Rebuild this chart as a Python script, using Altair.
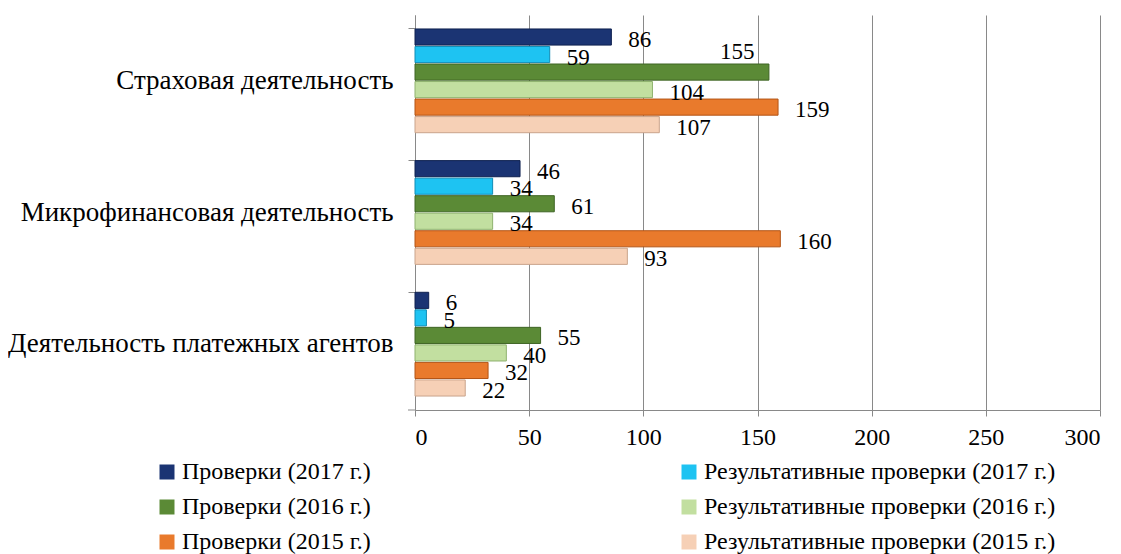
import altair as alt
import pandas as pd

categories = ["Страховая деятельность", "Микрофинансовая деятельность", "Деятельность платежных агентов"]
series = [
    "Проверки (2017 г.)",
    "Результативные проверки (2017 г.)",
    "Проверки (2016 г.)",
    "Результативные проверки (2016 г.)",
    "Проверки (2015 г.)",
    "Результативные проверки (2015 г.)",
]
p2017 = [86, 46, 6]
r2017 = [59, 34, 5]
p2016 = [155, 61, 55]
r2016 = [104, 34, 40]
p2015 = [159, 160, 32]
r2015 = [107, 93, 22]

colors = ["#1B3473", "#1EC3F2", "#5B8A36", "#C2DFA0", "#E97A2C", "#F6D0B6"]
strokes = ["#0F2150", "#118CB5", "#3E6424", "#8FB26E", "#B35416", "#C9A48C"]

vals = [p2017, r2017, p2016, r2016, p2015, r2015]
rows = []
for s, v in zip(series, vals):
    for c, x in zip(categories, v):
        rows.append({"category": c, "series": s, "value": x})
df = pd.DataFrame(rows)

FONT = "Liberation Serif"

y_enc = alt.Y(
    "category:N",
    sort=categories,
    title=None,
    scale=alt.Scale(paddingInner=0.212, paddingOuter=0.106),
    axis=alt.Axis(
        bandPosition=0,
        labelFont=FONT,
        labelFontSize=27,
        labelColor="black",
        labelPadding=15,
        tickSize=7,
        tickColor="#898989",
        domainColor="#898989",
        labelLimit=600,
        grid=False,
    ),
)
yoff = alt.YOffset("series:N", sort=series, scale=alt.Scale(paddingInner=0.08, paddingOuter=0))
x_enc = alt.X(
    "value:Q",
    title=None,
    scale=alt.Scale(domain=[0, 300], nice=False),
    axis=alt.Axis(
        values=[0, 50, 100, 150, 200, 250, 300],
        labelFont=FONT,
        labelFontSize=24,
        labelColor="black",
        labelPadding=9,
        tickSize=6,
        tickColor="#898989",
        domainColor="#898989",
        gridColor="#898989",
        grid=True,
    ),
)

base = alt.Chart(df)

bars = base.mark_bar(strokeWidth=1).encode(
    x=x_enc,
    y=y_enc,
    yOffset=yoff,
    color=alt.Color(
        "series:N",
        sort=series,
        scale=alt.Scale(domain=series, range=colors),
        legend=alt.Legend(
            orient="none",
            direction="horizontal",
            legendX=-260,
            legendY=445,
            columns=2,
            columnPadding=306,
            rowPadding=11,
            symbolType="square",
            symbolSize=225,
            symbolStrokeWidth=0,
            labelOffset=3,
            labelFont=FONT,
            labelFontSize=24,
            labelColor="black",
            labelLimit=600,
            title=None,
        ),
    ),
    stroke=alt.Stroke("series:N", sort=series, scale=alt.Scale(domain=series, range=strokes), legend=None),
)

labels = base.transform_filter(
    "!(datum.value == 155 && datum.category == 'Страховая деятельность')"
).mark_text(align="left", baseline="middle", dx=17, dy=3, font=FONT, fontSize=23, color="black").encode(
    x="value:Q",
    y=alt.Y("category:N", sort=categories),
    yOffset=alt.YOffset("series:N", sort=series),
    text="value:Q",
)

label_moved = base.transform_filter(
    "datum.value == 155 && datum.category == 'Страховая деятельность'"
).mark_text(align="left", baseline="middle", dx=-49, dy=-20, font=FONT, fontSize=23, color="black").encode(
    x="value:Q",
    y=alt.Y("category:N", sort=categories),
    yOffset=alt.YOffset("series:N", sort=series),
    text="value:Q",
)

bottom_tick = alt.Chart(pd.DataFrame({"a": [0]})).mark_rule(color="#898989").encode(
    x=alt.value(-7), x2=alt.value(0), y=alt.value(395)
)

chart = alt.layer(bars, labels, label_moved, bottom_tick).properties(
    width=685,
    height=395,
    autosize=alt.AutoSizeParams(type="none"),
    padding={"left": 407, "top": 7, "right": 5, "bottom": 144},
).configure(background="white", font=FONT).configure_view(stroke=None).configure_axis(
    labelFont=FONT
).configure_legend(labelFont=FONT).configure_text(font=FONT)

chart.save("out.html", embed_options={"renderer": "svg", "actions": False})
